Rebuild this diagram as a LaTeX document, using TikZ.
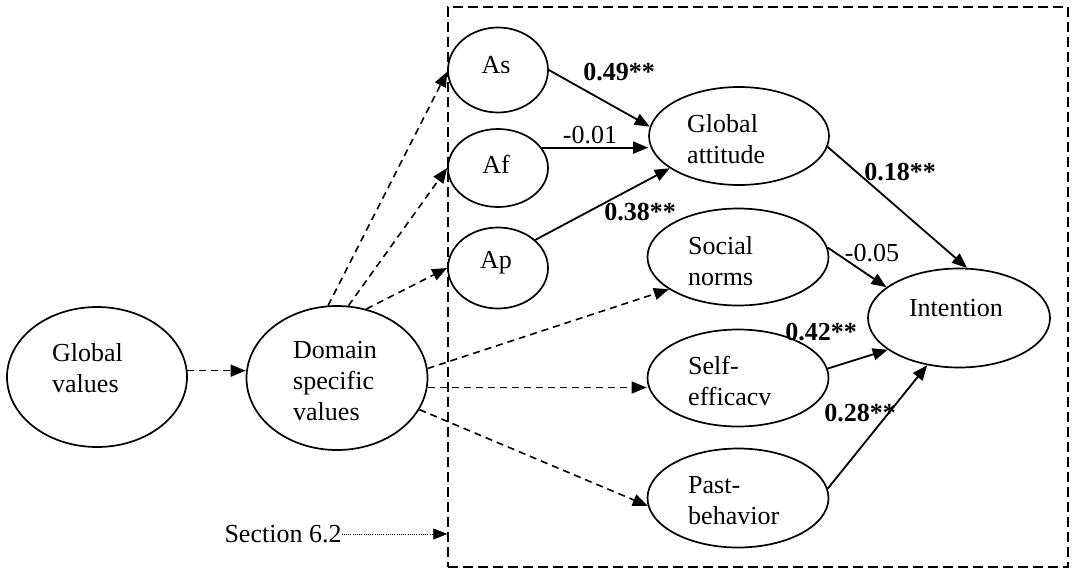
\documentclass[tikz,border=0pt]{standalone}
\usepackage{fontspec}
\setmainfont{Liberation Serif}
\usetikzlibrary{arrows.meta,shapes.geometric}

\begin{document}
\begin{tikzpicture}[x=1pt,y=-1pt,
  latent/.style={draw,line width=1.7pt,ellipse,inner sep=0pt},
  txt/.style={font=\fontsize{26}{31}\selectfont,align=left,inner sep=0pt},
  coef/.style={font=\fontsize{26}{31}\selectfont,inner sep=0pt},
  bcoef/.style={font=\fontsize{26}{31}\selectfont\bfseries,inner sep=0pt},
  effect/.style={line width=1.8pt,-{Triangle[length=15pt,width=12pt]}},
  linkage/.style={effect,line width=1.6pt,dash pattern=on 7pt off 5pt},
  pointer/.style={line width=0.8pt,dash pattern=on 1pt off 1.2pt,-{Triangle[length=14pt,width=11pt]}},
  frame/.style={draw,line width=1.5pt,dash pattern=on 10pt off 5pt,inner sep=0pt}
]
\useasboundingbox (0,0) rectangle (1073,571);

% model block
\node[frame,minimum width=620pt,minimum height=560pt] (block) at (758,287) {};

% latent constructs
\node[latent,minimum width=180pt,minimum height=140pt] (gv) at (97,377) {};
\node[latent,minimum width=181pt,minimum height=144pt] (dsv) at (337,378) {};
\node[latent,minimum width=100pt,minimum height=85pt] (as) at (498,70) {};
\node[latent,minimum width=100pt,minimum height=78pt] (af) at (498,168) {};
\node[latent,minimum width=100pt,minimum height=81pt] (ap) at (498,268) {};
\node[latent,minimum width=180pt,minimum height=98pt] (ga) at (739,136) {};
\node[latent,minimum width=181pt,minimum height=97pt] (sn) at (738,257) {};
\node[latent,minimum width=181pt,minimum height=97pt] (se) at (738,378) {};
\node[latent,minimum width=181pt,minimum height=99pt] (pb) at (738,498) {};
\node[latent,minimum width=182pt,minimum height=99pt] (int) at (959,318) {};

% construct names
\node[txt,anchor=west] (gvt) at (52,368) {Global\\values};
\node[txt,anchor=west] (dsvt) at (293,381) {Domain\\specific\\values};
\node[txt] (ast) at (496,65) {As};
\node[txt] (aft) at (496,164) {Af};
\node[txt] (apt) at (496,263) {Ap};
\node[txt,anchor=west] (gat) at (687,139) {Global\\attitude};
\node[txt,anchor=west] (snt) at (688,261) {Social\\norms};
\node[txt,anchor=west] (set) at (688,381) {Self-\\efficacv};
\node[txt,anchor=west] (pbt) at (688,501) {Past-\\behavior};
\node[txt] (intt) at (956,308) {Intention};

% value linkages
\draw[linkage] (gv.4) -- (gv.4 -| dsv.west);
\draw[linkage] (dsv.97) -- (as.182);
\draw[linkage] (dsv.81) -- (af.west);
\draw[linkage] (dsv.67) -- (ap.west);
\draw[linkage] (dsv.6) -- (sn.205);
\draw[linkage] (dsv.354) -- (dsv.354 -| se.west);
\draw[linkage] (dsv.339) -- (pb.185);

% estimated paths
\draw[effect] (as.east) -- (ga.174);
\draw[effect] (af.25) -- (af.25 -| ga.west);
\draw[effect] (ap.37) -- (ga.205);
\draw[effect] (ga.353) -- (int.81);
\draw[effect] (sn.6) -- (int.157);
\draw[effect] (se.6) -- (int.204);
\draw[effect] (pb.6) -- (int.236);

% coefficients
\node[bcoef] (c1) at (619,72) {0.49**};
\node[coef] (c2) at (590,135) {-0.01};
\node[bcoef] (c3) at (640,212) {0.38**};
\node[bcoef] (c4) at (900,172) {0.18**};
\node[coef] (c5) at (872,253) {-0.05};
\node[bcoef] (c6) at (821,332) {0.42**};
\node[bcoef] (c7) at (860,413) {0.28**};

% section reference
\node[coef] (sec) at (283,534) {Section 6.2};
\draw[pointer] (sec.east) -- (sec.east -| block.west);
\end{tikzpicture}
\end{document}
